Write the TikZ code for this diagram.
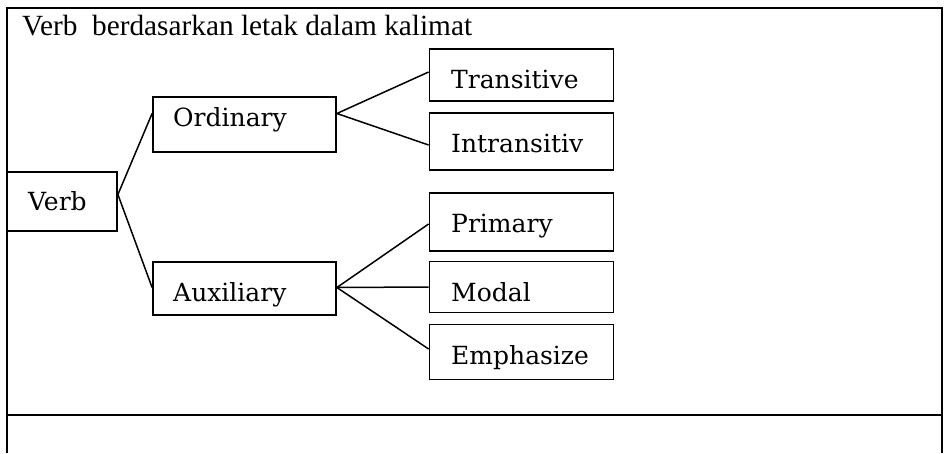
\documentclass[tikz,border=0pt]{standalone}
\usepackage{fontspec}
\setmainfont{Liberation Serif}
\newfontfamily\boxfont{DejaVu Serif}
\begin{document}
\begin{tikzpicture}[x=1pt,y=-1pt,
  frame/.style={line width=2.6pt},
  itembox/.style={draw,line width=1.8pt,inner sep=0pt},
  itemtext/.style={anchor=base west,inner sep=0pt,font=\boxfont\fontsize{25}{28}\selectfont},
  link/.style={line width=1.5pt}]
\useasboundingbox (0,0) rectangle (944,453);
% outer table
\draw[frame] (7,453) -- (7,8) -- (942,8) -- (942,453);
\draw[frame] (7,415) -- (942,415);
\node[anchor=base west,inner sep=0pt,font=\fontsize{29.3}{33}\selectfont] (title) at (22,35) {Verb\ \ berdasarkan letak dalam kalimat};
% boxes
\node[itembox,minimum width=110pt,minimum height=59pt] (verb) at (62,201.5) {};
\node[itembox,minimum width=183pt,minimum height=55pt] (ord) at (244.5,124.5) {};
\node[itembox,minimum width=183pt,minimum height=53pt] (aux) at (244.5,288.5) {};
\node[itembox,minimum width=184pt,minimum height=52pt] (tra) at (521.5,75) {};
\node[itembox,minimum width=184pt,minimum height=57pt] (intr) at (521.5,141.5) {};
\node[itembox,minimum width=184pt,minimum height=58pt] (prim) at (521.5,222) {};
\node[itembox,minimum width=184pt,minimum height=51pt] (modal) at (521.5,287) {};
\node[itembox,minimum width=184pt,minimum height=55pt] (emph) at (521.5,352) {};
% texts
\node[itemtext] (tverb) at (28,210) {Verb};
\node[itemtext] (tord) at (173,126) {Ordinary};
\node[itemtext] (taux) at (173,301) {Auxiliary};
\node[itemtext] (ttra) at (451,88) {Transitive};
\node[itemtext] (tintr) at (451,152) {Intransitiv};
\node[itemtext] (tprim) at (451,232) {Primary};
\node[itemtext] (tmodal) at (451,301) {Modal};
\node[itemtext] (temph) at (451,364) {Emphasize};
% connectors
\coordinate (vr) at ([yshift=7pt]verb.east);
\coordinate (ol) at ([yshift=11pt]ord.west);
\coordinate (al) at ([yshift=1pt]aux.west);
\coordinate (or) at ([yshift=11pt]ord.east);
\coordinate (ar) at ([yshift=1pt]aux.east);
\coordinate (tl) at ([yshift=3pt]tra.west);
\coordinate (il) at ([yshift=-3.5pt]intr.west);
\coordinate (pl) at ([yshift=-2pt]prim.west);
\coordinate (ml) at (modal.west);
\coordinate (el) at ([yshift=3pt]emph.west);
\draw[link] (ol) -- (vr) -- (al);
\draw[link] (tl) -- (or) -- (il);
\draw[link] (pl) -- (ar) -- (el);
\draw[link] (ar) -- (ml);
\end{tikzpicture}
\end{document}
